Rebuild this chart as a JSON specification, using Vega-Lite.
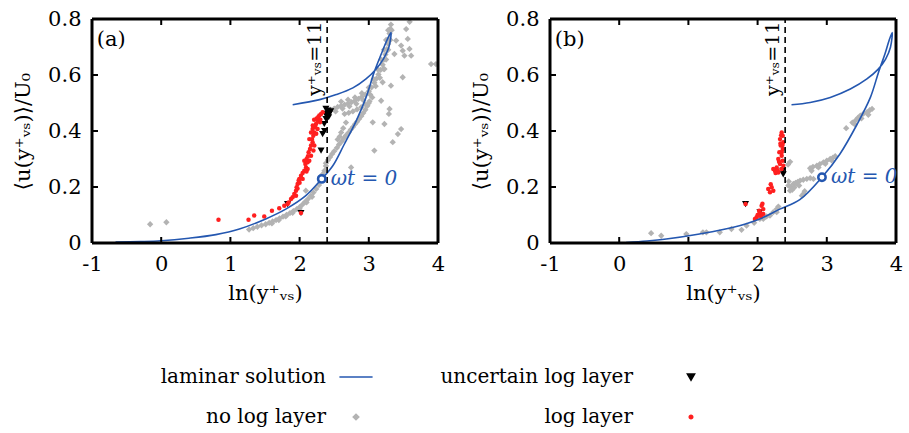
{
  "$schema": "https://vega.github.io/schema/vega-lite/v6.json",
  "background": "white",
  "padding": {"left": 12, "top": 8, "right": 5, "bottom": 5},
  "datasets": {
    "rows": [
      {"panel": "a", "series": "laminar solution", "i": 0, "x": -0.66, "y": 0.003},
      {"panel": "a", "series": "laminar solution", "i": 1, "x": -0.3, "y": 0.005},
      {"panel": "a", "series": "laminar solution", "i": 2, "x": 0.0, "y": 0.008},
      {"panel": "a", "series": "laminar solution", "i": 3, "x": 0.4, "y": 0.017},
      {"panel": "a", "series": "laminar solution", "i": 4, "x": 0.79, "y": 0.03},
      {"panel": "a", "series": "laminar solution", "i": 5, "x": 1.13, "y": 0.05},
      {"panel": "a", "series": "laminar solution", "i": 6, "x": 1.51, "y": 0.086},
      {"panel": "a", "series": "laminar solution", "i": 7, "x": 1.8, "y": 0.121},
      {"panel": "a", "series": "laminar solution", "i": 8, "x": 2.09, "y": 0.169},
      {"panel": "a", "series": "laminar solution", "i": 9, "x": 2.32, "y": 0.229},
      {"panel": "a", "series": "laminar solution", "i": 10, "x": 2.48, "y": 0.276},
      {"panel": "a", "series": "laminar solution", "i": 11, "x": 2.64, "y": 0.35},
      {"panel": "a", "series": "laminar solution", "i": 12, "x": 2.82, "y": 0.437},
      {"panel": "a", "series": "laminar solution", "i": 13, "x": 2.96, "y": 0.52},
      {"panel": "a", "series": "laminar solution", "i": 14, "x": 3.08, "y": 0.612},
      {"panel": "a", "series": "laminar solution", "i": 15, "x": 3.18, "y": 0.675},
      {"panel": "a", "series": "laminar solution", "i": 16, "x": 3.26, "y": 0.723},
      {"panel": "a", "series": "laminar solution", "i": 17, "x": 3.32, "y": 0.752},
      {"panel": "a", "series": "laminar solution", "i": 18, "x": 3.29, "y": 0.699},
      {"panel": "a", "series": "laminar solution", "i": 19, "x": 3.21, "y": 0.657},
      {"panel": "a", "series": "laminar solution", "i": 20, "x": 3.1, "y": 0.62},
      {"panel": "a", "series": "laminar solution", "i": 21, "x": 2.96, "y": 0.586},
      {"panel": "a", "series": "laminar solution", "i": 22, "x": 2.77, "y": 0.554},
      {"panel": "a", "series": "laminar solution", "i": 23, "x": 2.53, "y": 0.53},
      {"panel": "a", "series": "laminar solution", "i": 24, "x": 2.29, "y": 0.512},
      {"panel": "a", "series": "laminar solution", "i": 25, "x": 1.9, "y": 0.494},

      {"panel": "b", "series": "laminar solution", "i": 0, "x": 0.1, "y": 0.002},
      {"panel": "b", "series": "laminar solution", "i": 1, "x": 0.4, "y": 0.007},
      {"panel": "b", "series": "laminar solution", "i": 2, "x": 0.68, "y": 0.014},
      {"panel": "b", "series": "laminar solution", "i": 3, "x": 1.16, "y": 0.032},
      {"panel": "b", "series": "laminar solution", "i": 4, "x": 1.65, "y": 0.056},
      {"panel": "b", "series": "laminar solution", "i": 5, "x": 2.03, "y": 0.086},
      {"panel": "b", "series": "laminar solution", "i": 6, "x": 2.32, "y": 0.121},
      {"panel": "b", "series": "laminar solution", "i": 7, "x": 2.61, "y": 0.155},
      {"panel": "b", "series": "laminar solution", "i": 8, "x": 2.93, "y": 0.235},
      {"panel": "b", "series": "laminar solution", "i": 9, "x": 3.19, "y": 0.318},
      {"panel": "b", "series": "laminar solution", "i": 10, "x": 3.44, "y": 0.425},
      {"panel": "b", "series": "laminar solution", "i": 11, "x": 3.63, "y": 0.52},
      {"panel": "b", "series": "laminar solution", "i": 12, "x": 3.75, "y": 0.612},
      {"panel": "b", "series": "laminar solution", "i": 13, "x": 3.84, "y": 0.675},
      {"panel": "b", "series": "laminar solution", "i": 14, "x": 3.9, "y": 0.723},
      {"panel": "b", "series": "laminar solution", "i": 15, "x": 3.945, "y": 0.752},
      {"panel": "b", "series": "laminar solution", "i": 16, "x": 3.92, "y": 0.699},
      {"panel": "b", "series": "laminar solution", "i": 17, "x": 3.85, "y": 0.657},
      {"panel": "b", "series": "laminar solution", "i": 18, "x": 3.74, "y": 0.62},
      {"panel": "b", "series": "laminar solution", "i": 19, "x": 3.58, "y": 0.586},
      {"panel": "b", "series": "laminar solution", "i": 20, "x": 3.34, "y": 0.55},
      {"panel": "b", "series": "laminar solution", "i": 21, "x": 3.05, "y": 0.52},
      {"panel": "b", "series": "laminar solution", "i": 22, "x": 2.76, "y": 0.502},
      {"panel": "b", "series": "laminar solution", "i": 23, "x": 2.49, "y": 0.494},

      {"panel": "a", "series": "no log layer", "x": -0.16, "y": 0.067},
      {"panel": "a", "series": "no log layer", "x": 0.075, "y": 0.074},
      {"panel": "a", "series": "no log layer", "x": 1.27, "y": 0.048},
      {"panel": "a", "series": "no log layer", "x": 1.33, "y": 0.053},
      {"panel": "a", "series": "no log layer", "x": 1.39, "y": 0.058},
      {"panel": "a", "series": "no log layer", "x": 1.45, "y": 0.063},
      {"panel": "a", "series": "no log layer", "x": 1.51, "y": 0.067},
      {"panel": "a", "series": "no log layer", "x": 1.56, "y": 0.072},
      {"panel": "a", "series": "no log layer", "x": 1.61, "y": 0.077},
      {"panel": "a", "series": "no log layer", "x": 1.66, "y": 0.082},
      {"panel": "a", "series": "no log layer", "x": 1.71, "y": 0.088},
      {"panel": "a", "series": "no log layer", "x": 1.76, "y": 0.094},
      {"panel": "a", "series": "no log layer", "x": 1.81, "y": 0.1},
      {"panel": "a", "series": "no log layer", "x": 1.86, "y": 0.107},
      {"panel": "a", "series": "no log layer", "x": 1.91, "y": 0.114},
      {"panel": "a", "series": "no log layer", "x": 1.96, "y": 0.121},
      {"panel": "a", "series": "no log layer", "x": 2.0, "y": 0.128},
      {"panel": "a", "series": "no log layer", "x": 2.04, "y": 0.137},
      {"panel": "a", "series": "no log layer", "x": 2.08, "y": 0.147},
      {"panel": "a", "series": "no log layer", "x": 2.12, "y": 0.157},
      {"panel": "a", "series": "no log layer", "x": 2.16, "y": 0.168},
      {"panel": "a", "series": "no log layer", "x": 2.2, "y": 0.18},
      {"panel": "a", "series": "no log layer", "x": 2.24, "y": 0.193},
      {"panel": "a", "series": "no log layer", "x": 2.28, "y": 0.207},
      {"panel": "a", "series": "no log layer", "x": 2.09, "y": 0.187},
      {"panel": "a", "series": "no log layer", "x": 2.33, "y": 0.245},
      {"panel": "a", "series": "no log layer", "x": 2.36, "y": 0.258},
      {"panel": "a", "series": "no log layer", "x": 2.38, "y": 0.275},
      {"panel": "a", "series": "no log layer", "x": 1.6, "y": 0.07},
      {"panel": "a", "series": "no log layer", "x": 1.7, "y": 0.082},
      {"panel": "a", "series": "no log layer", "x": 1.8, "y": 0.095},
      {"panel": "a", "series": "no log layer", "x": 1.9, "y": 0.108},
      {"panel": "a", "series": "no log layer", "x": 2.0, "y": 0.122},
      {"panel": "a", "series": "no log layer", "x": 2.1, "y": 0.145},
      {"panel": "a", "series": "no log layer", "x": 2.18, "y": 0.165},
      {"panel": "a", "series": "no log layer", "x": 2.38, "y": 0.285},
      {"panel": "a", "series": "no log layer", "x": 2.41, "y": 0.296},
      {"panel": "a", "series": "no log layer", "x": 2.44, "y": 0.307},
      {"panel": "a", "series": "no log layer", "x": 2.47, "y": 0.318},
      {"panel": "a", "series": "no log layer", "x": 2.5, "y": 0.328},
      {"panel": "a", "series": "no log layer", "x": 2.54, "y": 0.34},
      {"panel": "a", "series": "no log layer", "x": 2.57, "y": 0.352},
      {"panel": "a", "series": "no log layer", "x": 2.61, "y": 0.363},
      {"panel": "a", "series": "no log layer", "x": 2.64, "y": 0.374},
      {"panel": "a", "series": "no log layer", "x": 2.67, "y": 0.384},
      {"panel": "a", "series": "no log layer", "x": 2.71, "y": 0.395},
      {"panel": "a", "series": "no log layer", "x": 2.74, "y": 0.405},
      {"panel": "a", "series": "no log layer", "x": 2.77, "y": 0.414},
      {"panel": "a", "series": "no log layer", "x": 2.8, "y": 0.424},
      {"panel": "a", "series": "no log layer", "x": 2.83, "y": 0.433},
      {"panel": "a", "series": "no log layer", "x": 2.86, "y": 0.443},
      {"panel": "a", "series": "no log layer", "x": 2.89, "y": 0.453},
      {"panel": "a", "series": "no log layer", "x": 2.92, "y": 0.464},
      {"panel": "a", "series": "no log layer", "x": 2.95, "y": 0.476},
      {"panel": "a", "series": "no log layer", "x": 2.98, "y": 0.49},
      {"panel": "a", "series": "no log layer", "x": 3.0, "y": 0.5},
      {"panel": "a", "series": "no log layer", "x": 2.55, "y": 0.37},
      {"panel": "a", "series": "no log layer", "x": 2.58, "y": 0.38},
      {"panel": "a", "series": "no log layer", "x": 2.6, "y": 0.395},
      {"panel": "a", "series": "no log layer", "x": 2.63, "y": 0.41},
      {"panel": "a", "series": "no log layer", "x": 2.67, "y": 0.43},
      {"panel": "a", "series": "no log layer", "x": 2.4, "y": 0.47},
      {"panel": "a", "series": "no log layer", "x": 2.45, "y": 0.476},
      {"panel": "a", "series": "no log layer", "x": 2.5, "y": 0.48},
      {"panel": "a", "series": "no log layer", "x": 2.55, "y": 0.486},
      {"panel": "a", "series": "no log layer", "x": 2.6, "y": 0.49},
      {"panel": "a", "series": "no log layer", "x": 2.65, "y": 0.494},
      {"panel": "a", "series": "no log layer", "x": 2.7, "y": 0.498},
      {"panel": "a", "series": "no log layer", "x": 2.75, "y": 0.503},
      {"panel": "a", "series": "no log layer", "x": 2.8, "y": 0.508},
      {"panel": "a", "series": "no log layer", "x": 2.85, "y": 0.515},
      {"panel": "a", "series": "no log layer", "x": 2.9, "y": 0.522},
      {"panel": "a", "series": "no log layer", "x": 2.95, "y": 0.53},
      {"panel": "a", "series": "no log layer", "x": 3.0, "y": 0.542},
      {"panel": "a", "series": "no log layer", "x": 3.04, "y": 0.556},
      {"panel": "a", "series": "no log layer", "x": 3.08, "y": 0.572},
      {"panel": "a", "series": "no log layer", "x": 3.11, "y": 0.587},
      {"panel": "a", "series": "no log layer", "x": 3.14, "y": 0.602},
      {"panel": "a", "series": "no log layer", "x": 3.17, "y": 0.618},
      {"panel": "a", "series": "no log layer", "x": 3.2, "y": 0.637},
      {"panel": "a", "series": "no log layer", "x": 3.22, "y": 0.655},
      {"panel": "a", "series": "no log layer", "x": 3.24, "y": 0.673},
      {"panel": "a", "series": "no log layer", "x": 3.26, "y": 0.692},
      {"panel": "a", "series": "no log layer", "x": 3.28, "y": 0.711},
      {"panel": "a", "series": "no log layer", "x": 3.29, "y": 0.73},
      {"panel": "a", "series": "no log layer", "x": 3.3, "y": 0.748},
      {"panel": "a", "series": "no log layer", "x": 3.31, "y": 0.765},
      {"panel": "a", "series": "no log layer", "x": 3.32, "y": 0.78},
      {"panel": "a", "series": "no log layer", "x": 2.52, "y": 0.47},
      {"panel": "a", "series": "no log layer", "x": 2.62, "y": 0.48},
      {"panel": "a", "series": "no log layer", "x": 2.72, "y": 0.488},
      {"panel": "a", "series": "no log layer", "x": 2.82, "y": 0.497},
      {"panel": "a", "series": "no log layer", "x": 2.92, "y": 0.51},
      {"panel": "a", "series": "no log layer", "x": 3.02, "y": 0.53},
      {"panel": "a", "series": "no log layer", "x": 3.1, "y": 0.56},
      {"panel": "a", "series": "no log layer", "x": 3.16, "y": 0.59},
      {"panel": "a", "series": "no log layer", "x": 3.21, "y": 0.622},
      {"panel": "a", "series": "no log layer", "x": 3.25, "y": 0.655},
      {"panel": "a", "series": "no log layer", "x": 3.28, "y": 0.69},
      {"panel": "a", "series": "no log layer", "x": 3.31, "y": 0.725},
      {"panel": "a", "series": "no log layer", "x": 3.33, "y": 0.76},
      {"panel": "a", "series": "no log layer", "x": 2.6, "y": 0.505},
      {"panel": "a", "series": "no log layer", "x": 2.7, "y": 0.512},
      {"panel": "a", "series": "no log layer", "x": 2.8, "y": 0.52},
      {"panel": "a", "series": "no log layer", "x": 2.9, "y": 0.535},
      {"panel": "a", "series": "no log layer", "x": 3.0, "y": 0.555},
      {"panel": "a", "series": "no log layer", "x": 3.07, "y": 0.585},
      {"panel": "a", "series": "no log layer", "x": 3.13, "y": 0.62},
      {"panel": "a", "series": "no log layer", "x": 3.18, "y": 0.655},
      {"panel": "a", "series": "no log layer", "x": 3.22, "y": 0.69},
      {"panel": "a", "series": "no log layer", "x": 3.25, "y": 0.725},
      {"panel": "a", "series": "no log layer", "x": 3.28, "y": 0.76},
      {"panel": "a", "series": "no log layer", "x": 2.65, "y": 0.461},
      {"panel": "a", "series": "no log layer", "x": 2.71, "y": 0.465},
      {"panel": "a", "series": "no log layer", "x": 2.77, "y": 0.47},
      {"panel": "a", "series": "no log layer", "x": 2.83, "y": 0.477},
      {"panel": "a", "series": "no log layer", "x": 2.89, "y": 0.485},
      {"panel": "a", "series": "no log layer", "x": 2.95, "y": 0.495},
      {"panel": "a", "series": "no log layer", "x": 3.01, "y": 0.506},
      {"panel": "a", "series": "no log layer", "x": 3.05, "y": 0.52},
      {"panel": "a", "series": "no log layer", "x": 3.395, "y": 0.723},
      {"panel": "a", "series": "no log layer", "x": 3.467, "y": 0.705},
      {"panel": "a", "series": "no log layer", "x": 3.54, "y": 0.764},
      {"panel": "a", "series": "no log layer", "x": 3.563, "y": 0.729},
      {"panel": "a", "series": "no log layer", "x": 3.49, "y": 0.687},
      {"panel": "a", "series": "no log layer", "x": 3.588, "y": 0.693},
      {"panel": "a", "series": "no log layer", "x": 3.612, "y": 0.669},
      {"panel": "a", "series": "no log layer", "x": 3.515, "y": 0.669},
      {"panel": "a", "series": "no log layer", "x": 3.37, "y": 0.675},
      {"panel": "a", "series": "no log layer", "x": 3.226, "y": 0.621},
      {"panel": "a", "series": "no log layer", "x": 3.2, "y": 0.574},
      {"panel": "a", "series": "no log layer", "x": 3.32, "y": 0.562},
      {"panel": "a", "series": "no log layer", "x": 3.49, "y": 0.592},
      {"panel": "a", "series": "no log layer", "x": 3.9, "y": 0.639},
      {"panel": "a", "series": "no log layer", "x": 3.97, "y": 0.639},
      {"panel": "a", "series": "no log layer", "x": 3.178, "y": 0.508},
      {"panel": "a", "series": "no log layer", "x": 3.3, "y": 0.479},
      {"panel": "a", "series": "no log layer", "x": 3.29, "y": 0.461},
      {"panel": "a", "series": "no log layer", "x": 3.226, "y": 0.425},
      {"panel": "a", "series": "no log layer", "x": 3.057, "y": 0.431},
      {"panel": "a", "series": "no log layer", "x": 3.467, "y": 0.407},
      {"panel": "a", "series": "no log layer", "x": 3.42, "y": 0.389},
      {"panel": "a", "series": "no log layer", "x": 3.346, "y": 0.36},
      {"panel": "a", "series": "no log layer", "x": 3.08, "y": 0.33},
      {"panel": "a", "series": "no log layer", "x": 2.744, "y": 0.27},
      {"panel": "a", "series": "no log layer", "x": 3.59, "y": 0.79},

      {"panel": "a", "series": "uncertain log layer", "x": 2.31, "y": 0.33},
      {"panel": "a", "series": "uncertain log layer", "x": 2.333, "y": 0.389},
      {"panel": "a", "series": "uncertain log layer", "x": 2.357, "y": 0.425},
      {"panel": "a", "series": "uncertain log layer", "x": 2.36, "y": 0.4},
      {"panel": "a", "series": "uncertain log layer", "x": 2.38, "y": 0.443},
      {"panel": "a", "series": "uncertain log layer", "x": 2.42, "y": 0.449},
      {"panel": "a", "series": "uncertain log layer", "x": 2.372, "y": 0.461},
      {"panel": "a", "series": "uncertain log layer", "x": 2.43, "y": 0.461},
      {"panel": "a", "series": "uncertain log layer", "x": 2.406, "y": 0.473},
      {"panel": "a", "series": "uncertain log layer", "x": 2.38, "y": 0.479},
      {"panel": "a", "series": "uncertain log layer", "x": 2.45, "y": 0.47},
      {"panel": "a", "series": "uncertain log layer", "x": 2.4, "y": 0.455},
      {"panel": "a", "series": "uncertain log layer", "x": 1.826, "y": 0.139},
      {"panel": "a", "series": "uncertain log layer", "x": 2.02, "y": 0.107},

      {"panel": "a", "series": "log layer", "x": 0.828, "y": 0.083},
      {"panel": "a", "series": "log layer", "x": 1.262, "y": 0.083},
      {"panel": "a", "series": "log layer", "x": 1.344, "y": 0.098},
      {"panel": "a", "series": "log layer", "x": 1.489, "y": 0.095},
      {"panel": "a", "series": "log layer", "x": 1.6, "y": 0.115},
      {"panel": "a", "series": "log layer", "x": 1.706, "y": 0.124},
      {"panel": "a", "series": "log layer", "x": 1.779, "y": 0.133},
      {"panel": "a", "series": "log layer", "x": 1.826, "y": 0.139},
      {"panel": "a", "series": "log layer", "x": 2.02, "y": 0.107},
      {"panel": "a", "series": "log layer", "x": 1.841, "y": 0.145},
      {"panel": "a", "series": "log layer", "x": 1.876, "y": 0.157},
      {"panel": "a", "series": "log layer", "x": 1.899, "y": 0.163},
      {"panel": "a", "series": "log layer", "x": 1.923, "y": 0.175},
      {"panel": "a", "series": "log layer", "x": 1.948, "y": 0.187},
      {"panel": "a", "series": "log layer", "x": 1.957, "y": 0.199},
      {"panel": "a", "series": "log layer", "x": 1.971, "y": 0.211},
      {"panel": "a", "series": "log layer", "x": 1.986, "y": 0.223},
      {"panel": "a", "series": "log layer", "x": 1.996, "y": 0.229},
      {"panel": "a", "series": "log layer", "x": 2.02, "y": 0.24},
      {"panel": "a", "series": "log layer", "x": 2.044, "y": 0.25},
      {"panel": "a", "series": "log layer", "x": 2.068, "y": 0.258},
      {"panel": "a", "series": "log layer", "x": 2.093, "y": 0.27},
      {"panel": "a", "series": "log layer", "x": 2.083, "y": 0.282},
      {"panel": "a", "series": "log layer", "x": 2.116, "y": 0.288},
      {"panel": "a", "series": "log layer", "x": 2.101, "y": 0.3},
      {"panel": "a", "series": "log layer", "x": 2.14, "y": 0.294},
      {"panel": "a", "series": "log layer", "x": 2.068, "y": 0.294},
      {"panel": "a", "series": "log layer", "x": 2.165, "y": 0.312},
      {"panel": "a", "series": "log layer", "x": 2.13, "y": 0.324},
      {"panel": "a", "series": "log layer", "x": 2.15, "y": 0.336},
      {"panel": "a", "series": "log layer", "x": 2.165, "y": 0.348},
      {"panel": "a", "series": "log layer", "x": 2.188, "y": 0.36},
      {"panel": "a", "series": "log layer", "x": 2.18, "y": 0.371},
      {"panel": "a", "series": "log layer", "x": 2.198, "y": 0.383},
      {"panel": "a", "series": "log layer", "x": 2.213, "y": 0.395},
      {"panel": "a", "series": "log layer", "x": 2.188, "y": 0.407},
      {"panel": "a", "series": "log layer", "x": 2.227, "y": 0.413},
      {"panel": "a", "series": "log layer", "x": 2.237, "y": 0.425},
      {"panel": "a", "series": "log layer", "x": 2.26, "y": 0.437},
      {"panel": "a", "series": "log layer", "x": 2.246, "y": 0.445},
      {"panel": "a", "series": "log layer", "x": 2.285, "y": 0.455},
      {"panel": "a", "series": "log layer", "x": 2.31, "y": 0.461},
      {"panel": "a", "series": "log layer", "x": 2.295, "y": 0.431},
      {"panel": "a", "series": "log layer", "x": 2.333, "y": 0.467},
      {"panel": "a", "series": "log layer", "x": 2.116, "y": 0.264},
      {"panel": "a", "series": "log layer", "x": 2.044, "y": 0.229},
      {"panel": "a", "series": "log layer", "x": 1.948, "y": 0.169},
      {"panel": "a", "series": "log layer", "x": 2.213, "y": 0.348},
      {"panel": "a", "series": "log layer", "x": 2.14, "y": 0.371},
      {"panel": "a", "series": "log layer", "x": 2.26, "y": 0.407},
      {"panel": "a", "series": "log layer", "x": 2.165, "y": 0.395},
      {"panel": "a", "series": "log layer", "x": 1.97, "y": 0.195},
      {"panel": "a", "series": "log layer", "x": 2.0, "y": 0.215},
      {"panel": "a", "series": "log layer", "x": 2.1, "y": 0.255},
      {"panel": "a", "series": "log layer", "x": 2.12, "y": 0.31},
      {"panel": "a", "series": "log layer", "x": 2.19, "y": 0.42},
      {"panel": "a", "series": "log layer", "x": 2.21, "y": 0.44},
      {"panel": "a", "series": "log layer", "x": 2.27, "y": 0.45},
      {"panel": "a", "series": "log layer", "x": 2.3, "y": 0.44},
      {"panel": "a", "series": "log layer", "x": 2.24, "y": 0.39},
      {"panel": "a", "series": "log layer", "x": 2.2, "y": 0.33},

      {"panel": "b", "series": "no log layer", "x": 0.461, "y": 0.035},
      {"panel": "b", "series": "no log layer", "x": 0.607, "y": 0.026},
      {"panel": "b", "series": "no log layer", "x": 0.97, "y": 0.032},
      {"panel": "b", "series": "no log layer", "x": 1.21, "y": 0.038},
      {"panel": "b", "series": "no log layer", "x": 1.26, "y": 0.038},
      {"panel": "b", "series": "no log layer", "x": 1.453, "y": 0.038},
      {"panel": "b", "series": "no log layer", "x": 1.622, "y": 0.05},
      {"panel": "b", "series": "no log layer", "x": 1.768, "y": 0.047},
      {"panel": "b", "series": "no log layer", "x": 1.84, "y": 0.062},
      {"panel": "b", "series": "no log layer", "x": 1.95, "y": 0.072},
      {"panel": "b", "series": "no log layer", "x": 2.033, "y": 0.086},
      {"panel": "b", "series": "no log layer", "x": 2.082, "y": 0.086},
      {"panel": "b", "series": "no log layer", "x": 2.13, "y": 0.095},
      {"panel": "b", "series": "no log layer", "x": 2.179, "y": 0.098},
      {"panel": "b", "series": "no log layer", "x": 2.226, "y": 0.11},
      {"panel": "b", "series": "no log layer", "x": 2.276, "y": 0.11},
      {"panel": "b", "series": "no log layer", "x": 2.276, "y": 0.121},
      {"panel": "b", "series": "no log layer", "x": 2.3, "y": 0.13},
      {"panel": "b", "series": "no log layer", "x": 2.44, "y": 0.28},
      {"panel": "b", "series": "no log layer", "x": 2.47, "y": 0.29},
      {"panel": "b", "series": "no log layer", "x": 2.444, "y": 0.205},
      {"panel": "b", "series": "no log layer", "x": 2.48, "y": 0.2},
      {"panel": "b", "series": "no log layer", "x": 2.517, "y": 0.211},
      {"panel": "b", "series": "no log layer", "x": 2.55, "y": 0.215},
      {"panel": "b", "series": "no log layer", "x": 2.58, "y": 0.218},
      {"panel": "b", "series": "no log layer", "x": 2.614, "y": 0.223},
      {"panel": "b", "series": "no log layer", "x": 2.66, "y": 0.226},
      {"panel": "b", "series": "no log layer", "x": 2.711, "y": 0.229},
      {"panel": "b", "series": "no log layer", "x": 2.76, "y": 0.232},
      {"panel": "b", "series": "no log layer", "x": 2.807, "y": 0.229},
      {"panel": "b", "series": "no log layer", "x": 2.469, "y": 0.187},
      {"panel": "b", "series": "no log layer", "x": 2.5, "y": 0.19},
      {"panel": "b", "series": "no log layer", "x": 2.53, "y": 0.198},
      {"panel": "b", "series": "no log layer", "x": 2.6, "y": 0.205},
      {"panel": "b", "series": "no log layer", "x": 2.64, "y": 0.169},
      {"panel": "b", "series": "no log layer", "x": 2.662, "y": 0.175},
      {"panel": "b", "series": "no log layer", "x": 2.68, "y": 0.185},
      {"panel": "b", "series": "no log layer", "x": 2.566, "y": 0.211},
      {"panel": "b", "series": "no log layer", "x": 2.45, "y": 0.22},
      {"panel": "b", "series": "no log layer", "x": 2.759, "y": 0.267},
      {"panel": "b", "series": "no log layer", "x": 2.8, "y": 0.272},
      {"panel": "b", "series": "no log layer", "x": 2.856, "y": 0.276},
      {"panel": "b", "series": "no log layer", "x": 2.9, "y": 0.282},
      {"panel": "b", "series": "no log layer", "x": 2.952, "y": 0.288},
      {"panel": "b", "series": "no log layer", "x": 3.0, "y": 0.294},
      {"panel": "b", "series": "no log layer", "x": 3.049, "y": 0.3},
      {"panel": "b", "series": "no log layer", "x": 3.09, "y": 0.305},
      {"panel": "b", "series": "no log layer", "x": 3.122, "y": 0.31},
      {"panel": "b", "series": "no log layer", "x": 2.78, "y": 0.258},
      {"panel": "b", "series": "no log layer", "x": 2.88, "y": 0.27},
      {"panel": "b", "series": "no log layer", "x": 2.98, "y": 0.283},
      {"panel": "b", "series": "no log layer", "x": 3.07, "y": 0.295},
      {"panel": "b", "series": "no log layer", "x": 3.28, "y": 0.41},
      {"panel": "b", "series": "no log layer", "x": 3.37, "y": 0.43},
      {"panel": "b", "series": "no log layer", "x": 3.412, "y": 0.437},
      {"panel": "b", "series": "no log layer", "x": 3.45, "y": 0.447},
      {"panel": "b", "series": "no log layer", "x": 3.485, "y": 0.455},
      {"panel": "b", "series": "no log layer", "x": 3.53, "y": 0.462},
      {"panel": "b", "series": "no log layer", "x": 3.582, "y": 0.467},
      {"panel": "b", "series": "no log layer", "x": 3.62, "y": 0.474},
      {"panel": "b", "series": "no log layer", "x": 3.654, "y": 0.479},
      {"panel": "b", "series": "no log layer", "x": 3.4, "y": 0.425},
      {"panel": "b", "series": "no log layer", "x": 3.5, "y": 0.445},
      {"panel": "b", "series": "no log layer", "x": 3.6, "y": 0.458},

      {"panel": "b", "series": "uncertain log layer", "x": 2.363, "y": 0.258},
      {"panel": "b", "series": "uncertain log layer", "x": 2.37, "y": 0.245},
      {"panel": "b", "series": "uncertain log layer", "x": 1.826, "y": 0.139},
      {"panel": "b", "series": "uncertain log layer", "x": 2.033, "y": 0.11},

      {"panel": "b", "series": "log layer", "x": 2.348, "y": 0.395},
      {"panel": "b", "series": "log layer", "x": 2.363, "y": 0.383},
      {"panel": "b", "series": "log layer", "x": 2.324, "y": 0.371},
      {"panel": "b", "series": "log layer", "x": 2.372, "y": 0.36},
      {"panel": "b", "series": "log layer", "x": 2.334, "y": 0.348},
      {"panel": "b", "series": "log layer", "x": 2.363, "y": 0.336},
      {"panel": "b", "series": "log layer", "x": 2.314, "y": 0.324},
      {"panel": "b", "series": "log layer", "x": 2.348, "y": 0.312},
      {"panel": "b", "series": "log layer", "x": 2.299, "y": 0.3},
      {"panel": "b", "series": "log layer", "x": 2.363, "y": 0.294},
      {"panel": "b", "series": "log layer", "x": 2.324, "y": 0.282},
      {"panel": "b", "series": "log layer", "x": 2.276, "y": 0.27},
      {"panel": "b", "series": "log layer", "x": 2.251, "y": 0.258},
      {"panel": "b", "series": "log layer", "x": 2.299, "y": 0.252},
      {"panel": "b", "series": "log layer", "x": 2.348, "y": 0.264},
      {"panel": "b", "series": "log layer", "x": 2.372, "y": 0.276},
      {"panel": "b", "series": "log layer", "x": 2.227, "y": 0.264},
      {"panel": "b", "series": "log layer", "x": 2.34, "y": 0.385},
      {"panel": "b", "series": "log layer", "x": 2.33, "y": 0.355},
      {"panel": "b", "series": "log layer", "x": 2.35, "y": 0.325},
      {"panel": "b", "series": "log layer", "x": 2.31, "y": 0.29},
      {"panel": "b", "series": "log layer", "x": 2.36, "y": 0.35},
      {"panel": "b", "series": "log layer", "x": 2.29, "y": 0.26},
      {"panel": "b", "series": "log layer", "x": 2.26, "y": 0.25},
      {"panel": "b", "series": "log layer", "x": 2.203, "y": 0.199},
      {"panel": "b", "series": "log layer", "x": 2.227, "y": 0.187},
      {"panel": "b", "series": "log layer", "x": 2.179, "y": 0.181},
      {"panel": "b", "series": "log layer", "x": 2.154, "y": 0.193},
      {"panel": "b", "series": "log layer", "x": 2.19, "y": 0.21},
      {"panel": "b", "series": "log layer", "x": 2.058, "y": 0.133},
      {"panel": "b", "series": "log layer", "x": 2.082, "y": 0.121},
      {"panel": "b", "series": "log layer", "x": 2.033, "y": 0.104},
      {"panel": "b", "series": "log layer", "x": 1.985, "y": 0.092},
      {"panel": "b", "series": "log layer", "x": 2.023, "y": 0.115},
      {"panel": "b", "series": "log layer", "x": 1.961, "y": 0.086},
      {"panel": "b", "series": "log layer", "x": 2.082, "y": 0.104},
      {"panel": "b", "series": "log layer", "x": 2.0, "y": 0.1},
      {"panel": "b", "series": "log layer", "x": 2.05, "y": 0.095},
      {"panel": "b", "series": "log layer", "x": 2.07, "y": 0.14},
      {"panel": "b", "series": "log layer", "x": 1.826, "y": 0.139},
      {"panel": "b", "series": "log layer", "x": 2.033, "y": 0.11}
    ],
    "notes": [
      {"panel": "a", "kind": "threshold", "x": 2.398, "label": "y⁺ᵥₛ=11"},
      {"panel": "b", "kind": "threshold", "x": 2.398, "label": "y⁺ᵥₛ=11"},
      {"panel": "a", "kind": "start", "x": 2.32, "y": 0.229, "label": "ωt = 0"},
      {"panel": "b", "kind": "start", "x": 2.93, "y": 0.235, "label": "ωt = 0"},
      {"panel": "a", "kind": "tag", "label": "(a)"},
      {"panel": "b", "kind": "tag", "label": "(b)"},
      {"panel": "a", "kind": "xtick", "x": -1}, {"panel": "a", "kind": "xtick", "x": 0}, {"panel": "a", "kind": "xtick", "x": 1},
      {"panel": "a", "kind": "xtick", "x": 2}, {"panel": "a", "kind": "xtick", "x": 3}, {"panel": "a", "kind": "xtick", "x": 4},
      {"panel": "b", "kind": "xtick", "x": -1}, {"panel": "b", "kind": "xtick", "x": 0}, {"panel": "b", "kind": "xtick", "x": 1},
      {"panel": "b", "kind": "xtick", "x": 2}, {"panel": "b", "kind": "xtick", "x": 3}, {"panel": "b", "kind": "xtick", "x": 4},
      {"panel": "a", "kind": "ytick", "y": 0}, {"panel": "a", "kind": "ytick", "y": 0.2}, {"panel": "a", "kind": "ytick", "y": 0.4},
      {"panel": "a", "kind": "ytick", "y": 0.6}, {"panel": "a", "kind": "ytick", "y": 0.8},
      {"panel": "b", "kind": "ytick", "y": 0}, {"panel": "b", "kind": "ytick", "y": 0.2}, {"panel": "b", "kind": "ytick", "y": 0.4},
      {"panel": "b", "kind": "ytick", "y": 0.6}, {"panel": "b", "kind": "ytick", "y": 0.8}
    ]
  },
  "spacing": 112,
  "bounds": "flush",
  "resolve": {"scale": {"color": "shared"}, "legend": {"color": "shared"}},
  "hconcat": [
    {
      "width": 346,
      "height": 224,
      "view": {"stroke": null},
      "layer": [
        {
          "data": {"name": "rows"},
          "transform": [{"filter": "datum.panel === 'a'"}],
          "encoding": {
            "x": {
              "field": "x", "type": "quantitative",
              "scale": {"domain": [-1, 4], "nice": false, "zero": false},
              "axis": {"values": [-1, 0, 1, 2, 3, 4], "labelExpr": "'' + datum.value", "title": "ln(y⁺ᵥₛ)", "labelPadding": 10, "titlePadding": 8, "grid": false, "ticks": false, "labelFlush": false, "labelOverlap": false,
                "labelFont": "DejaVu Serif", "titleFont": "DejaVu Serif",
                "encode": {"labels": {"update": {"font": {"value": "DejaVu Serif"}}}, "title": {"update": {"font": {"value": "DejaVu Serif"}}}}}
            },
            "y": {
              "field": "y", "type": "quantitative",
              "scale": {"domain": [0, 0.8], "nice": false, "zero": false},
              "axis": {"values": [0, 0.2, 0.4, 0.6, 0.8], "labelExpr": "'' + datum.value", "title": "⟨u(y⁺ᵥₛ)⟩/U₀", "labelPadding": 11, "titlePadding": 14, "grid": false, "ticks": false, "labelFlush": false, "labelOverlap": false,
                "labelFont": "DejaVu Serif", "titleFont": "DejaVu Serif",
                "encode": {"labels": {"update": {"font": {"value": "DejaVu Serif"}}}, "title": {"update": {"font": {"value": "DejaVu Serif"}}}}}
            },
            "color": {
              "field": "series", "type": "nominal",
              "scale": {"domain": ["laminar solution", "no log layer", "uncertain log layer", "log layer"], "range": ["#2457b0", "#b3b3b3", "#000000", "#ff1f1f"]},
              "legend": {
                "orient": "none", "legendX": 59, "legendY": 348, "columns": 2, "title": null, "padding": 0,
                "labelFont": "DejaVu Serif", "labelFontSize": 20, "labelColor": "black", "labelLimit": 400,
                "columnPadding": 57, "rowPadding": 20,
                "encode": {
                  "labels": {"update": {
                    "align": {"value": "right"},
                    "font": {"value": "DejaVu Serif"},
                    "fontSize": {"value": 20},
                    "x": {"signal": "indexof(['laminar solution', 'no log layer'], datum.value) >= 0 ? 175 : 200"}
                  }},
                  "symbols": {"update": {
                    "x": {"signal": "indexof(['laminar solution', 'no log layer'], datum.value) >= 0 ? 205 : 258"},
                    "shape": {"signal": "datum.value === 'laminar solution' ? 'stroke' : datum.value === 'uncertain log layer' ? 'triangle-down' : datum.value === 'no log layer' ? 'diamond' : 'circle'"},
                    "size": {"signal": "datum.value === 'laminar solution' ? 1100 : datum.value === 'uncertain log layer' ? 50 : datum.value === 'no log layer' ? 30 : 12"},
                    "fill": {"signal": "datum.value === 'laminar solution' ? 'transparent' : datum.value === 'uncertain log layer' ? '#000000' : datum.value === 'no log layer' ? '#b3b3b3' : '#ff1f1f'"},
                    "stroke": {"signal": "datum.value === 'laminar solution' ? '#2457b0' : 'transparent'"},
                    "strokeWidth": {"value": 1.6},
                    "opacity": {"value": 1}
                  }}
                }
              }
            }
          },
          "layer": [
            {"transform": [{"filter": "datum.series === 'no log layer'"}], "mark": {"type": "point", "shape": "diamond", "filled": true, "size": 40, "opacity": 1}},
            {"transform": [{"filter": "datum.series === 'uncertain log layer'"}], "mark": {"type": "point", "shape": "triangle-down", "filled": true, "size": 50, "opacity": 1}},
            {"transform": [{"filter": "datum.series === 'log layer'"}], "mark": {"type": "point", "shape": "circle", "filled": true, "size": 20, "opacity": 1}},
            {"transform": [{"filter": "datum.series === 'laminar solution'"}], "mark": {"type": "line", "interpolate": "catmull-rom", "strokeWidth": 1.6},
             "encoding": {"order": {"field": "i", "type": "quantitative"}}}
          ]
        },
        {"data": {"name": "notes"}, "transform": [{"filter": "datum.panel === 'a' && datum.kind === 'threshold'"}],
         "mark": {"type": "rule", "color": "black", "strokeWidth": 1.6, "strokeDash": [6, 4]},
         "encoding": {"x": {"field": "x", "type": "quantitative"}, "y": {"datum": 0, "type": "quantitative"}, "y2": {"datum": 0.8}}},
        {"data": {"name": "notes"}, "transform": [{"filter": "datum.panel === 'a' && datum.kind === 'xtick'"}],
         "mark": {"type": "rule", "color": "black", "strokeWidth": 2, "strokeDash": [6, 212, 6]},
         "encoding": {"x": {"field": "x", "type": "quantitative"}, "y": {"datum": 0, "type": "quantitative"}, "y2": {"datum": 0.8}}},
        {"data": {"name": "notes"}, "transform": [{"filter": "datum.panel === 'a' && datum.kind === 'ytick'"}],
         "mark": {"type": "rule", "color": "black", "strokeWidth": 2, "strokeDash": [6, 334, 6]},
         "encoding": {"y": {"field": "y", "type": "quantitative"}, "x": {"datum": -1, "type": "quantitative"}, "x2": {"datum": 4}}},
        {"data": {"name": "notes"}, "transform": [{"filter": "datum.panel === 'a' && datum.kind === 'tag'"}],
         "mark": {"type": "rule", "color": "black", "strokeWidth": 3},
         "encoding": {"x": {"datum": -1, "type": "quantitative"}, "x2": {"datum": 4}, "y": {"datum": 0, "type": "quantitative"}}},
        {"data": {"name": "notes"}, "transform": [{"filter": "datum.panel === 'a' && datum.kind === 'tag'"}],
         "mark": {"type": "rule", "color": "black", "strokeWidth": 3},
         "encoding": {"x": {"datum": -1, "type": "quantitative"}, "x2": {"datum": 4}, "y": {"datum": 0.8, "type": "quantitative"}}},
        {"data": {"name": "notes"}, "transform": [{"filter": "datum.panel === 'a' && datum.kind === 'tag'"}],
         "mark": {"type": "rule", "color": "black", "strokeWidth": 3},
         "encoding": {"x": {"datum": -1, "type": "quantitative"}, "y": {"datum": 0, "type": "quantitative"}, "y2": {"datum": 0.8}}},
        {"data": {"name": "notes"}, "transform": [{"filter": "datum.panel === 'a' && datum.kind === 'tag'"}],
         "mark": {"type": "rule", "color": "black", "strokeWidth": 3},
         "encoding": {"x": {"datum": 4, "type": "quantitative"}, "y": {"datum": 0, "type": "quantitative"}, "y2": {"datum": 0.8}}},
        {"data": {"name": "notes"}, "transform": [{"filter": "datum.panel === 'a' && datum.kind === 'start'"}],
         "mark": {"type": "point", "shape": "circle", "filled": false, "fill": "white", "color": "#2457b0", "strokeWidth": 2.5, "size": 55, "opacity": 1},
         "encoding": {"x": {"field": "x", "type": "quantitative"}, "y": {"field": "y", "type": "quantitative"}}},
        {"data": {"name": "notes"}, "transform": [{"filter": "datum.panel === 'a' && datum.kind === 'start'"}],
         "mark": {"type": "text", "align": "left", "baseline": "middle", "dx": 9, "font": "DejaVu Serif", "fontSize": 20, "fontStyle": "italic", "color": "#2457b0"},
         "encoding": {"x": {"field": "x", "type": "quantitative"}, "y": {"field": "y", "type": "quantitative"}, "text": {"field": "label"}}},
        {"data": {"name": "notes"}, "transform": [{"filter": "datum.panel === 'a' && datum.kind === 'threshold'"}],
         "mark": {"type": "text", "angle": 270, "align": "left", "baseline": "alphabetic", "dy": -6, "font": "DejaVu Serif", "fontSize": 19, "color": "black"},
         "encoding": {"x": {"field": "x", "type": "quantitative"}, "y": {"datum": 0.525, "type": "quantitative"}, "text": {"field": "label"}}},
        {"data": {"name": "notes"}, "transform": [{"filter": "datum.panel === 'a' && datum.kind === 'tag'"}],
         "mark": {"type": "text", "align": "left", "baseline": "middle", "font": "DejaVu Serif", "fontSize": 21, "color": "black"},
         "encoding": {"x": {"datum": -0.93, "type": "quantitative"}, "y": {"datum": 0.725, "type": "quantitative"}, "text": {"field": "label"}}}
      ]
    },
    {
      "width": 346,
      "height": 224,
      "view": {"stroke": null},
      "layer": [
        {
          "data": {"name": "rows"},
          "transform": [{"filter": "datum.panel === 'b'"}],
          "encoding": {
            "x": {
              "field": "x", "type": "quantitative",
              "scale": {"domain": [-1, 4], "nice": false, "zero": false},
              "axis": {"values": [-1, 0, 1, 2, 3, 4], "labelExpr": "'' + datum.value", "title": "ln(y⁺ᵥₛ)", "labelPadding": 10, "titlePadding": 8, "grid": false, "ticks": false, "labelFlush": false, "labelOverlap": false,
                "labelFont": "DejaVu Serif", "titleFont": "DejaVu Serif",
                "encode": {"labels": {"update": {"font": {"value": "DejaVu Serif"}}}, "title": {"update": {"font": {"value": "DejaVu Serif"}}}}}
            },
            "y": {
              "field": "y", "type": "quantitative",
              "scale": {"domain": [0, 0.8], "nice": false, "zero": false},
              "axis": {"values": [0, 0.2, 0.4, 0.6, 0.8], "labelExpr": "'' + datum.value", "title": "⟨u(y⁺ᵥₛ)⟩/U₀", "labelPadding": 11, "titlePadding": 14, "grid": false, "ticks": false, "labelFlush": false, "labelOverlap": false,
                "labelFont": "DejaVu Serif", "titleFont": "DejaVu Serif",
                "encode": {"labels": {"update": {"font": {"value": "DejaVu Serif"}}}, "title": {"update": {"font": {"value": "DejaVu Serif"}}}}}
            },
            "color": {
              "field": "series", "type": "nominal",
              "scale": {"domain": ["laminar solution", "no log layer", "uncertain log layer", "log layer"], "range": ["#2457b0", "#b3b3b3", "#000000", "#ff1f1f"]},
              "legend": {
                "orient": "none", "legendX": 59, "legendY": 348, "columns": 2, "title": null, "padding": 0,
                "labelFont": "DejaVu Serif", "labelFontSize": 20, "labelColor": "black", "labelLimit": 400,
                "columnPadding": 57, "rowPadding": 20,
                "encode": {
                  "labels": {"update": {
                    "align": {"value": "right"},
                    "font": {"value": "DejaVu Serif"},
                    "fontSize": {"value": 20},
                    "x": {"signal": "indexof(['laminar solution', 'no log layer'], datum.value) >= 0 ? 175 : 200"}
                  }},
                  "symbols": {"update": {
                    "x": {"signal": "indexof(['laminar solution', 'no log layer'], datum.value) >= 0 ? 205 : 258"},
                    "shape": {"signal": "datum.value === 'laminar solution' ? 'stroke' : datum.value === 'uncertain log layer' ? 'triangle-down' : datum.value === 'no log layer' ? 'diamond' : 'circle'"},
                    "size": {"signal": "datum.value === 'laminar solution' ? 1100 : datum.value === 'uncertain log layer' ? 50 : datum.value === 'no log layer' ? 30 : 12"},
                    "fill": {"signal": "datum.value === 'laminar solution' ? 'transparent' : datum.value === 'uncertain log layer' ? '#000000' : datum.value === 'no log layer' ? '#b3b3b3' : '#ff1f1f'"},
                    "stroke": {"signal": "datum.value === 'laminar solution' ? '#2457b0' : 'transparent'"},
                    "strokeWidth": {"value": 1.6},
                    "opacity": {"value": 1}
                  }}
                }
              }
            }
          },
          "layer": [
            {"transform": [{"filter": "datum.series === 'no log layer'"}], "mark": {"type": "point", "shape": "diamond", "filled": true, "size": 40, "opacity": 1}},
            {"transform": [{"filter": "datum.series === 'uncertain log layer'"}], "mark": {"type": "point", "shape": "triangle-down", "filled": true, "size": 50, "opacity": 1}},
            {"transform": [{"filter": "datum.series === 'log layer'"}], "mark": {"type": "point", "shape": "circle", "filled": true, "size": 20, "opacity": 1}},
            {"transform": [{"filter": "datum.series === 'laminar solution'"}], "mark": {"type": "line", "interpolate": "catmull-rom", "strokeWidth": 1.6},
             "encoding": {"order": {"field": "i", "type": "quantitative"}}}
          ]
        },
        {"data": {"name": "notes"}, "transform": [{"filter": "datum.panel === 'b' && datum.kind === 'threshold'"}],
         "mark": {"type": "rule", "color": "black", "strokeWidth": 1.6, "strokeDash": [6, 4]},
         "encoding": {"x": {"field": "x", "type": "quantitative"}, "y": {"datum": 0, "type": "quantitative"}, "y2": {"datum": 0.8}}},
        {"data": {"name": "notes"}, "transform": [{"filter": "datum.panel === 'b' && datum.kind === 'xtick'"}],
         "mark": {"type": "rule", "color": "black", "strokeWidth": 2, "strokeDash": [6, 212, 6]},
         "encoding": {"x": {"field": "x", "type": "quantitative"}, "y": {"datum": 0, "type": "quantitative"}, "y2": {"datum": 0.8}}},
        {"data": {"name": "notes"}, "transform": [{"filter": "datum.panel === 'b' && datum.kind === 'ytick'"}],
         "mark": {"type": "rule", "color": "black", "strokeWidth": 2, "strokeDash": [6, 334, 6]},
         "encoding": {"y": {"field": "y", "type": "quantitative"}, "x": {"datum": -1, "type": "quantitative"}, "x2": {"datum": 4}}},
        {"data": {"name": "notes"}, "transform": [{"filter": "datum.panel === 'b' && datum.kind === 'tag'"}],
         "mark": {"type": "rule", "color": "black", "strokeWidth": 3},
         "encoding": {"x": {"datum": -1, "type": "quantitative"}, "x2": {"datum": 4}, "y": {"datum": 0, "type": "quantitative"}}},
        {"data": {"name": "notes"}, "transform": [{"filter": "datum.panel === 'b' && datum.kind === 'tag'"}],
         "mark": {"type": "rule", "color": "black", "strokeWidth": 3},
         "encoding": {"x": {"datum": -1, "type": "quantitative"}, "x2": {"datum": 4}, "y": {"datum": 0.8, "type": "quantitative"}}},
        {"data": {"name": "notes"}, "transform": [{"filter": "datum.panel === 'b' && datum.kind === 'tag'"}],
         "mark": {"type": "rule", "color": "black", "strokeWidth": 3},
         "encoding": {"x": {"datum": -1, "type": "quantitative"}, "y": {"datum": 0, "type": "quantitative"}, "y2": {"datum": 0.8}}},
        {"data": {"name": "notes"}, "transform": [{"filter": "datum.panel === 'b' && datum.kind === 'tag'"}],
         "mark": {"type": "rule", "color": "black", "strokeWidth": 3},
         "encoding": {"x": {"datum": 4, "type": "quantitative"}, "y": {"datum": 0, "type": "quantitative"}, "y2": {"datum": 0.8}}},
        {"data": {"name": "notes"}, "transform": [{"filter": "datum.panel === 'b' && datum.kind === 'start'"}],
         "mark": {"type": "point", "shape": "circle", "filled": false, "fill": "white", "color": "#2457b0", "strokeWidth": 2.5, "size": 55, "opacity": 1},
         "encoding": {"x": {"field": "x", "type": "quantitative"}, "y": {"field": "y", "type": "quantitative"}}},
        {"data": {"name": "notes"}, "transform": [{"filter": "datum.panel === 'b' && datum.kind === 'start'"}],
         "mark": {"type": "text", "align": "left", "baseline": "middle", "dx": 9, "font": "DejaVu Serif", "fontSize": 20, "fontStyle": "italic", "color": "#2457b0"},
         "encoding": {"x": {"field": "x", "type": "quantitative"}, "y": {"field": "y", "type": "quantitative"}, "text": {"field": "label"}}},
        {"data": {"name": "notes"}, "transform": [{"filter": "datum.panel === 'b' && datum.kind === 'threshold'"}],
         "mark": {"type": "text", "angle": 270, "align": "left", "baseline": "alphabetic", "dy": -6, "font": "DejaVu Serif", "fontSize": 19, "color": "black"},
         "encoding": {"x": {"field": "x", "type": "quantitative"}, "y": {"datum": 0.525, "type": "quantitative"}, "text": {"field": "label"}}},
        {"data": {"name": "notes"}, "transform": [{"filter": "datum.panel === 'b' && datum.kind === 'tag'"}],
         "mark": {"type": "text", "align": "left", "baseline": "middle", "font": "DejaVu Serif", "fontSize": 21, "color": "black"},
         "encoding": {"x": {"datum": -0.93, "type": "quantitative"}, "y": {"datum": 0.725, "type": "quantitative"}, "text": {"field": "label"}}}
      ]
    }
  ],
  "config": {
    "font": "DejaVu Serif",
    "axis": {
      "labelFont": "DejaVu Serif", "labelFontSize": 21, "labelColor": "black",
      "titleFont": "DejaVu Serif", "titleFontSize": 21, "titleFontWeight": "normal", "titleColor": "black",
      "domain": false, "ticks": false, "tickSize": 0
    },
    "legend": {"labelFont": "DejaVu Serif"}
  }
}
